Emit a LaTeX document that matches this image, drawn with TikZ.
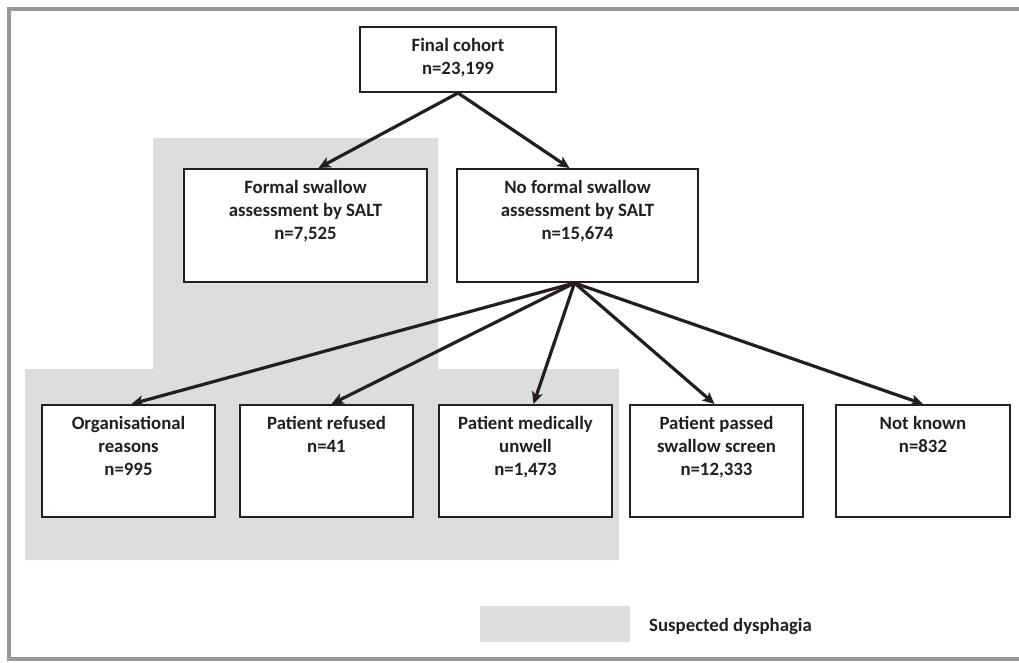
\documentclass[tikz,border=0pt]{standalone}
\usepackage{fontspec}
\setmainfont{Carlito}
\usetikzlibrary{arrows.meta}

\definecolor{ink}{RGB}{35,31,32}
\definecolor{dysgrey}{RGB}{220,221,223}
\definecolor{framegrey}{RGB}{152,152,155}

% box text: width, height, lines
\newcommand{\boxtext}[3]{\parbox[b][#2][t]{#1}{\centering\rule{0pt}{24pt}#3}}

\begin{document}
\begin{tikzpicture}[
        x=1pt, y=-1pt,
        every node/.style={font=\fontsize{18.8pt}{23pt}\selectfont\bfseries, text=ink},
        flowbox/.style={draw=ink, line width=2pt, fill=white, inner sep=0pt, anchor=north west},
        arrow/.style={draw=ink, line width=3.2pt, -{Stealth[length=12pt,width=11pt,inset=3pt]}}
    ]
    \useasboundingbox (0,0) rectangle (1019,662);

    % suspected dysphagia area
    \fill[dysgrey] (153,138) -- (438,138) -- (438,369) -- (619,369)
        -- (619,560) -- (25,560) -- (25,369) -- (153,369) -- cycle;

    % outer frame
    \draw[framegrey, line width=4pt] (1030,8.5) -- (9,8.5) -- (9,659) -- (1030,659);

    \node[flowbox] (final) at (359,26) {\boxtext{196pt}{65pt}{Final cohort\\n=23,199}};
    \node[flowbox] (formal) at (183,168) {\boxtext{243pt}{113pt}{Formal swallow\\assessment by SALT\\n=7,525}};
    \node[flowbox] (noformal) at (456,168) {\boxtext{241pt}{113pt}{No formal swallow\\assessment by SALT\\n=15,674}};

    \node[flowbox] (org) at (41,404) {\boxtext{173pt}{112pt}{Organisational\\reasons\\n=995}};
    \node[flowbox] (refused) at (239,404) {\boxtext{173pt}{112pt}{Patient refused\\n=41}};
    \node[flowbox] (unwell) at (438,404) {\boxtext{173pt}{112pt}{Patient medically\\unwell\\n=1,473}};
    \node[flowbox] (passed) at (629,404) {\boxtext{173pt}{112pt}{Patient passed\\swallow screen\\n=12,333}};
    \node[flowbox] (unknown) at (835,404) {\boxtext{174pt}{112pt}{Not known\\n=832}};

    \draw[arrow] (final.south) -- ([xshift=13pt]formal.north);
    \draw[arrow] (final.south) -- ([xshift=-8pt]noformal.north);
    \foreach \n/\s in {org/3, refused/5, unwell/8, passed/-2, unknown/0}
        \draw[arrow] ([xshift=-3pt]noformal.south) -- ([xshift=\s pt]\n.north);

    % legend
    \node[fill=dysgrey, inner sep=0pt, minimum width=150pt, minimum height=36pt, anchor=north west] (key) at (480,606) {};
    \node[anchor=base west, inner sep=0pt] (keytext) at (649,631) {Suspected dysphagia};
\end{tikzpicture}
\end{document}
